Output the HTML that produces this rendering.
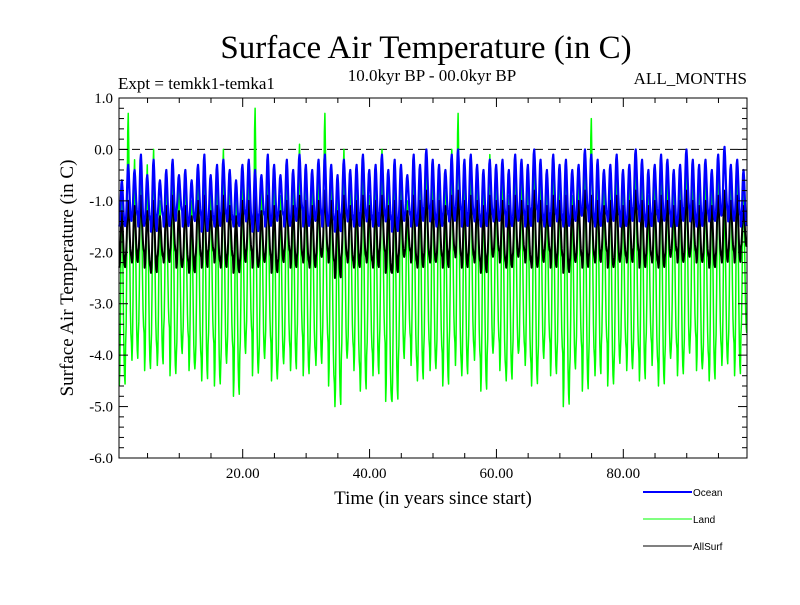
<!DOCTYPE html>
<html><head><meta charset="utf-8"><style>
html,body{margin:0;padding:0;background:#fff;}
svg text{font-family:"Liberation Serif",serif;}
</style></head><body>
<svg id="chart" width="800" height="600" viewBox="0 0 800 600" xmlns="http://www.w3.org/2000/svg">
<rect width="800" height="600" fill="#fff"/>
<text x="426" y="58" font-size="33" text-anchor="middle">Surface Air Temperature (in C)</text>
<text x="118" y="89" font-size="17">Expt = temkk1-temka1</text>
<text x="432" y="81" font-size="17" text-anchor="middle">10.0kyr BP - 00.0kyr BP</text>
<text x="747" y="84" font-size="17" text-anchor="end">ALL_MONTHS</text>
<text transform="translate(73,278) rotate(-90)" font-size="19" text-anchor="middle">Surface Air Temperature (in C)</text>
<text x="433" y="504" font-size="19" text-anchor="middle">Time (in years since start)</text>
<g id="plot"></g>
<g id="axes"></g>
<g>
<line x1="643" y1="492" x2="692" y2="492" stroke="#0000ff" stroke-width="2"/>
<text x="693" y="496" font-size="10" style="font-family:'Liberation Sans',sans-serif">Ocean</text>
<line x1="643" y1="519" x2="692" y2="519" stroke="#00ff00" stroke-width="1"/>
<text x="693" y="523" font-size="10" style="font-family:'Liberation Sans',sans-serif">Land</text>
<line x1="643" y1="546" x2="692" y2="546" stroke="#000" stroke-width="1"/>
<text x="693" y="550" font-size="10" style="font-family:'Liberation Sans',sans-serif">AllSurf</text>
</g>
</svg>
<script>
const yTicks=[1,0,-1,-2,-3,-4,-5,-6];
const yTickLabels=["1.0","0.0","-1.0","-2.0","-3.0","-4.0","-5.0","-6.0"];
const xTicks=[20,40,60,80];
const xTickLabels=["20.00","40.00","60.00","80.00"];
const season=[0,0.08,0.3,0.65,0.92,1,0.85,0.6,0.35,0.15,0.05,0.01];
const landMax=[-0.8,0.7,-0.2,-0.5,-0.3,0.0,-1.0,-0.6,-0.2,-0.8,
-0.4,-1.0,-0.3,-0.1,-0.7,-0.5,0.0,-0.4,-0.9,-0.6,
-0.3,0.8,-0.5,-0.2,-0.6,-0.9,-0.3,-0.7,0.1,-0.4,
-0.6,-0.2,0.7,-0.3,-0.8,0.0,-0.5,-0.6,-0.2,-0.9,
-0.4,0.0,-0.7,-0.3,-0.5,-1.0,-0.2,-0.6,0.0,-0.4,
-0.3,-0.8,0.0,0.7,-0.5,-0.2,-0.3,-0.7,-0.1,-0.6,
-0.4,-0.9,-0.2,-0.5,-0.7,0.0,-0.4,-0.8,-0.3,-0.6,
-0.2,-0.9,-0.5,0.0,0.6,-0.3,-0.7,-0.4,-0.2,-0.8,
-0.5,0.0,-0.3,-0.9,-0.6,-0.2,-0.4,-0.8,-0.5,0.0,
-0.3,-0.7,-0.4,-0.6,-0.2,-0.9,-0.5,-0.3,-0.7];
const landMin=[-4.6,-3.8,-4.1,-3.6,-4.3,-3.9,-4.2,-3.5,-4.4,-4.0,
-3.7,-4.3,-4.1,-4.5,-3.8,-4.6,-4.2,-3.9,-4.8,-4.0,
-3.6,-4.4,-4.1,-3.8,-4.5,-4.2,-3.9,-4.3,-3.7,-4.4,
-4.0,-4.2,-3.8,-4.6,-5.0,-4.1,-3.9,-4.3,-4.7,-4.0,
-4.4,-3.8,-4.9,-4.9,-4.1,-3.7,-4.2,-4.5,-3.9,-4.3,
-4.0,-4.6,-3.8,-4.2,-4.4,-3.9,-4.1,-4.7,-4.0,-3.8,
-4.3,-4.5,-4.0,-3.9,-4.2,-4.6,-4.1,-3.8,-4.4,-4.0,
-5.0,-4.3,-3.9,-4.7,-4.1,-4.4,-3.8,-4.6,-4.2,-3.9,
-4.3,-4.0,-4.5,-3.8,-4.2,-4.6,-4.1,-3.9,-4.4,-4.0,
-3.7,-4.3,-4.1,-4.5,-3.9,-4.2,-3.8,-4.4,-3.6];
const oceanMax=[-0.6,-0.3,-0.4,-0.1,-0.5,-0.2,-0.6,-0.4,-0.2,-0.5,
-0.4,-0.6,-0.3,-0.1,-0.5,-0.3,-0.2,-0.4,-0.6,-0.3,
-0.2,-0.4,-0.5,-0.1,-0.3,-0.5,-0.2,-0.4,-0.1,-0.3,
-0.4,-0.2,-0.1,-0.3,-0.5,-0.2,-0.4,-0.3,-0.1,-0.4,
-0.3,-0.1,-0.4,-0.2,-0.3,-0.5,-0.1,-0.3,0.0,-0.2,
-0.3,-0.4,-0.1,0.0,-0.2,-0.1,-0.3,-0.4,-0.2,-0.3,
-0.2,-0.4,-0.1,-0.2,-0.3,0.0,-0.2,-0.4,-0.1,-0.3,
-0.2,-0.4,-0.3,0.0,-0.1,-0.2,-0.4,-0.3,-0.1,-0.4,
-0.3,0.0,-0.2,-0.4,-0.3,-0.1,-0.2,-0.4,-0.3,0.0,
-0.2,-0.3,-0.2,-0.4,-0.1,0.05,-0.3,-0.2,-0.4];
const oceanMin=[-1.5,-1.4,-1.3,-1.5,-1.4,-1.6,-1.3,-1.5,-1.4,-1.2,
-1.5,-1.4,-1.3,-1.6,-1.4,-1.5,-1.3,-1.4,-1.5,-1.3,
-1.4,-1.6,-1.3,-1.5,-1.4,-1.3,-1.5,-1.4,-1.2,-1.5,
-1.4,-1.3,-1.5,-1.4,-1.6,-1.3,-1.4,-1.5,-1.3,-1.4,
-1.5,-1.3,-1.4,-1.6,-1.4,-1.3,-1.5,-1.4,-1.2,-1.4,
-1.5,-1.3,-1.4,-1.2,-1.5,-1.3,-1.4,-1.5,-1.3,-1.4,
-1.3,-1.5,-1.4,-1.3,-1.5,-1.2,-1.4,-1.5,-1.3,-1.4,
-1.5,-1.4,-1.3,-1.2,-1.4,-1.5,-1.3,-1.4,-1.3,-1.5,
-1.4,-1.2,-1.4,-1.5,-1.3,-1.4,-1.3,-1.5,-1.4,-1.2,
-1.4,-1.5,-1.3,-1.4,-1.3,-1.2,-1.4,-1.3,-1.5];
const allMax=[-1.2,-1.0,-1.1,-0.9,-1.2,-1.0,-1.3,-1.1,-0.9,-1.2,
-1.1,-1.3,-1.0,-0.9,-1.2,-1.1,-0.9,-1.1,-1.3,-1.0,
-1.0,-0.9,-1.2,-0.9,-1.1,-1.2,-1.0,-1.1,-0.9,-1.0,
-1.1,-1.0,-0.8,-1.0,-1.2,-0.9,-1.1,-1.0,-0.9,-1.1,
-1.0,-0.9,-1.1,-1.0,-1.0,-1.2,-0.9,-1.0,-0.8,-1.0,
-1.0,-1.1,-0.9,-0.8,-1.0,-0.9,-1.0,-1.1,-0.9,-1.0,
-1.0,-1.1,-0.9,-1.0,-1.1,-0.8,-1.0,-1.1,-0.9,-1.0,
-0.9,-1.1,-1.0,-0.8,-0.9,-1.0,-1.1,-1.0,-0.9,-1.1,
-1.0,-0.8,-1.0,-1.1,-1.0,-0.9,-1.0,-1.1,-1.0,-0.8,
-1.0,-1.1,-1.0,-1.1,-0.9,-0.8,-1.0,-0.9,-1.1];
const allMin=[-2.3,-2.1,-2.2,-2.0,-2.3,-2.4,-2.1,-2.2,-2.0,-2.3,
-2.2,-2.4,-2.1,-2.3,-2.0,-2.2,-2.3,-2.1,-2.4,-2.2,
-2.0,-2.3,-2.2,-2.1,-2.4,-2.2,-2.0,-2.3,-2.1,-2.2,
-2.3,-2.1,-2.0,-2.2,-2.5,-2.1,-2.2,-2.3,-2.1,-2.2,
-2.3,-2.0,-2.4,-2.4,-2.1,-2.0,-2.2,-2.3,-2.1,-2.2,
-2.1,-2.3,-2.0,-2.1,-2.3,-2.1,-2.2,-2.4,-2.1,-2.0,
-2.2,-2.3,-2.1,-2.0,-2.2,-2.3,-2.2,-2.0,-2.3,-2.1,
-2.4,-2.2,-2.1,-2.3,-2.1,-2.2,-2.0,-2.3,-2.2,-2.1,
-2.2,-2.0,-2.3,-2.1,-2.2,-2.3,-2.1,-2.0,-2.2,-2.1,
-2.0,-2.2,-2.1,-2.3,-2.1,-2.2,-2.0,-2.2,-1.9];

const L=119,R=747,T=98,B=458;
const X0=0.5,X1=99.5,Y0=-6,Y1=1;
function xs(v){return L+(v-X0)/(X1-X0)*(R-L);}
function ys(v){return B-(v-Y0)/(Y1-Y0)*(B-T);}
const NS="http://www.w3.org/2000/svg";
const plot=document.getElementById('plot'),axes=document.getElementById('axes');
function mk(tag,attrs,parent){const e=document.createElementNS(NS,tag);for(const k in attrs)e.setAttribute(k,attrs[k]);parent.appendChild(e);return e;}

const zl=mk('line',{x1:L,x2:R,y1:ys(0),y2:ys(0),stroke:'#000','stroke-width':1,'stroke-dasharray':'8,5'},plot);



function series(maxA,minA,color,w,name){
  const n=Math.min(maxA.length,minA.length);const pts=[];
  for(let yr=0;yr<n;yr++){
    for(let m=0;m<12;m++){
      const t=yr+0.5+(m+0.5)/12;
      if(t<X0||t>X1)continue;
      const v=minA[yr]+(maxA[yr]-minA[yr])*season[m];
      pts.push(xs(t).toFixed(2)+','+ys(v).toFixed(2));
    }
  }
  const p=mk('polyline',{points:pts.join(' '),fill:'none',stroke:color,'stroke-width':w,'stroke-linejoin':'round'},plot);
  
  
}
series(landMax,landMin,'#00ff00',1.5,'land-series');
series(allMax,allMin,'#000000',2,'allsurf-series');
series(oceanMax,oceanMin,'#0000ff',2.2,'ocean-series');

const fr=mk('rect',{x:L,y:T,width:R-L,height:B-T,fill:'none',stroke:'#000','stroke-width':1},axes);


for(let v=-6;v<=1.001;v+=0.2){
  const y=ys(v);const major=Math.abs(v-Math.round(v))<0.01;const len=major?9:5;
  mk('line',{x1:L,x2:L+len,y1:y,y2:y,stroke:'#000'},axes);
  mk('line',{x1:R,x2:R-len,y1:y,y2:y,stroke:'#000'},axes);
}
yTicks.forEach((v,i)=>{
  const t=mk('text',{x:L-6,y:ys(v)+5,'font-size':15,'text-anchor':'end'},axes);
  t.textContent=yTickLabels[i];
  
  
});
for(let v=5;v<=95;v+=5){
  const x=xs(v);const len=(v%20===0)?9:5;
  mk('line',{x1:x,x2:x,y1:B,y2:B-len,stroke:'#000'},axes);
  mk('line',{x1:x,x2:x,y1:T,y2:T+len,stroke:'#000'},axes);
}
xTicks.forEach((v,i)=>{
  const t=mk('text',{x:xs(v),y:B+20,'font-size':15,'text-anchor':'middle'},axes);
  t.textContent=xTickLabels[i];
  
  
});
</script>
</body></html>
